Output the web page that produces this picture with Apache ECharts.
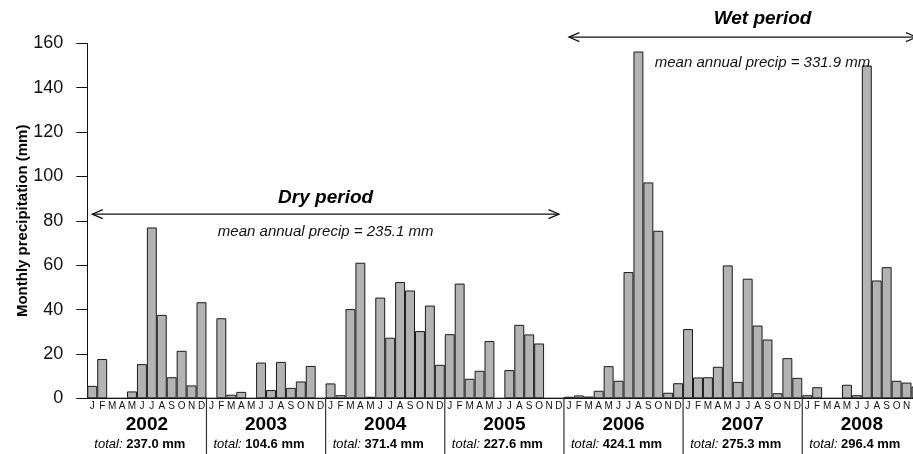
<!DOCTYPE html>
<html>
<head>
<meta charset="utf-8">
<script src="https://cdn.jsdelivr.net/npm/echarts@6/dist/echarts.min.js"></script>
<style>
html,body{margin:0;padding:0;background:#fff;}
#chart{width:913px;height:454px;}
</style>
</head>
<body>
<div id="chart"></div>
<script>
// ---- data ----
const monthLetters = ['J','F','M','A','M','J','J','A','S','O','N','D'];
const years = ['2002','2003','2004','2005','2006','2007','2008'];
const yearTotals = [237.0, 104.6, 371.4, 227.6, 424.1, 275.3, 296.4];
const p2002 = [5.6, 17.7, 0, 0, 3.1, 15.4, 77.0, 37.6, 9.5, 21.4, 5.8, 43.3];
const p2003 = [0, 36.1, 1.6, 2.9, 0, 16.1, 3.7, 16.4, 4.7, 7.6, 14.6, 0];
const p2004 = [6.7, 1.4, 40.2, 61.1, 0.7, 45.4, 27.3, 52.4, 48.6, 30.3, 41.8, 15.1];
const p2005 = [28.9, 51.7, 8.8, 12.4, 25.8, 0, 12.7, 33.1, 28.8, 24.7, 0, 0];
const p2006 = [0.7, 1.3, 0.8, 3.4, 14.5, 7.9, 56.9, 156.3, 97.3, 75.5, 2.5, 6.8];
const p2007 = [31.2, 9.4, 9.5, 14.2, 59.9, 7.4, 53.9, 32.8, 26.5, 2.3, 18.1, 9.2];
const p2008 = [1.4, 5.0, 0, 0, 6.1, 1.4, 150.0, 53.1, 59.1, 7.9, 7.1, 5.3];
const yTicks = [0, 20, 40, 60, 80, 100, 120, 140, 160];
const periodLabels = ['Dry period', 'Wet period'];
const periodMeans = [235.1, 331.9];
const periodStartMonth = [0, 48];   // month index (Jan 2002 = 0)
const periodEndMonth = [47, 83];

// ---- derived ----
const monthly = [].concat(p2002, p2003, p2004, p2005, p2006, p2007, p2008);
const monthCats = [];
years.forEach(y => monthLetters.forEach((m, i) => monthCats.push(y + '-' + (i + 1))));
const yearBoundaries = years.slice(1).map((y, i) => (i + 1) * 12);

// ---- layout (styles/positions) ----
const FONT = '"Liberation Sans", Arial, Helvetica, sans-serif';
const L = {
  arrowY: [83, 162.8],
  textIdx: [23.5, 67.5],
  titleDy: [-16.6, -18],
  meanDy: [17.4, 26]
};

const chart = echarts.init(document.getElementById('chart'), null, {renderer: 'canvas'});

function renderAnnotations(params, api) {
  const children = [];
  const bw = api.size([1, 0])[0];
  const lineStyle = {stroke: '#111', lineWidth: 1.2, fill: null};
  for (let k = 0; k < periodLabels.length; k++) {
    const p0 = api.coord([periodStartMonth[k], L.arrowY[k]]);
    const p1 = api.coord([periodEndMonth[k], L.arrowY[k]]);
    const y = p0[1];
    children.push({type: 'line', shape: {x1: p0[0], y1: y, x2: p1[0], y2: y}, style: lineStyle});
    children.push({type: 'polyline', shape: {points: [[p0[0] + 10.5, y - 4.5], [p0[0], y], [p0[0] + 10.5, y + 4.5]]}, style: lineStyle});
    children.push({type: 'polyline', shape: {points: [[p1[0] - 10.5, y - 4.5], [p1[0], y], [p1[0] - 10.5, y + 4.5]]}, style: lineStyle});
    const base = Math.floor(L.textIdx[k]);
    const tx = api.coord([base, 0])[0] + (L.textIdx[k] - base) * bw;
    children.push({type: 'text', style: {
      text: periodLabels[k], x: tx, y: y + L.titleDy[k],
      font: 'italic bold 19px ' + FONT, fill: '#000',
      textAlign: 'center', textVerticalAlign: 'middle'
    }});
    children.push({type: 'text', style: {
      text: 'mean annual precip = ' + periodMeans[k].toFixed(1) + ' mm', x: tx, y: y + L.meanDy[k],
      font: 'italic 15px ' + FONT, fill: '#111',
      textAlign: 'center', textVerticalAlign: 'middle'
    }});
  }
  const yb = api.coord([0, 0])[1];
  yearBoundaries.forEach(b => {
    const x = api.coord([b, 0])[0] - bw / 2;
    children.push({type: 'line', shape: {x1: x, y1: yb - 1, x2: x, y2: yb + 70}, style: {stroke: '#333', lineWidth: 1.2}});
  });
  return {type: 'group', children: children};
}

const option = {
  backgroundColor: '#fff',
  animation: false,
  grid: {left: 87.3, top: 43.3, width: monthCats.length * 9.93, height: 355, containLabel: false, outerBoundsMode: 'none'},
  xAxis: [
    {
      type: 'category', data: monthCats, boundaryGap: true,
      axisLine: {show: true, lineStyle: {color: '#111', width: 1}},
      axisTick: {show: false},
      splitLine: {show: false},
      axisLabel: {
        interval: 0, margin: 2.5, color: '#111', fontSize: 10, fontFamily: FONT,
        hideOverlap: false,
        formatter: (v, i) => monthLetters[i % 12]
      }
    },
    {
      type: 'category', data: years, position: 'bottom', boundaryGap: true, gridIndex: 0,
      axisLine: {show: false}, axisTick: {show: false}, splitLine: {show: false},
      axisLabel: {
        interval: 0, margin: 16.4, color: '#000', fontFamily: FONT,
        formatter: (v, i) => '{y|' + v + '}\n{t|total: }{v|' + yearTotals[i].toFixed(1) + ' mm}',
        rich: {
          y: {fontSize: 19, fontWeight: 'bold', lineHeight: 20, fontFamily: FONT, color: '#000'},
          t: {fontSize: 13, fontStyle: 'italic', lineHeight: 20, fontFamily: FONT, color: '#000'},
          v: {fontSize: 13, fontWeight: 'bold', lineHeight: 20, fontFamily: FONT, color: '#000', padding: [0, 14, 0, 0]}
        }
      }
    }
  ],
  yAxis: {
    type: 'value', min: yTicks[0], max: yTicks[yTicks.length - 1], interval: 20,
    name: 'Monthly precipitation (mm)', nameLocation: 'middle', nameGap: 57, nameRotate: 90,
    nameMoveOverlap: false,
    nameTextStyle: {fontSize: 15, fontWeight: 'bold', fontFamily: FONT, color: '#000'},
    axisLine: {show: true, lineStyle: {color: '#111', width: 1}},
    axisTick: {show: true, inside: false, length: 11, lineStyle: {color: '#111', width: 1}},
    splitLine: {show: false},
    axisLabel: {margin: 24, fontSize: 18, fontFamily: FONT, color: '#111'}
  },
  series: [
    {
      type: 'bar', data: monthly, barWidth: '100%', barCategoryGap: '0%', barGap: '0%',
      itemStyle: {color: '#b3b3b3', borderColor: '#1a1a1a', borderWidth: 1},
      emphasis: {disabled: true}, silent: true
    },
    {
      type: 'custom', data: [[0, 0]], renderItem: renderAnnotations,
      clip: false, silent: true, z: 10
    }
  ]
};
chart.setOption(option);
</script>
</body>
</html>
